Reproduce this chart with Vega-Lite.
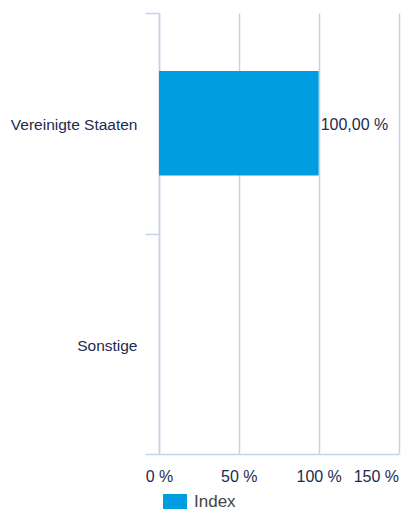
{
  "$schema": "https://vega.github.io/schema/vega-lite/v6.json",
  "width": 239.5,
  "height": 441,
  "autosize": {"type": "none"},
  "padding": {"left": 159, "top": 13, "right": 4.5, "bottom": 55},
  "config": {
    "view": {"stroke": null},
    "font": "Liberation Sans"
  },
  "data": {
    "values": [
      {"country": "Vereinigte Staaten", "value": 100, "label": "100,00 %", "series": "Index"},
      {"country": "Sonstige", "value": 0, "label": "", "series": "Index"}
    ]
  },
  "encoding": {
    "y": {
      "field": "country",
      "type": "nominal",
      "sort": null,
      "scale": {"domain": ["Vereinigte Staaten", "Sonstige"], "paddingInner": 0, "paddingOuter": 0},
      "axis": {
        "title": null,
        "labelFontSize": 15.5,
        "labelColor": "#1c2b50",
        "labelPadding": 8,
        "labelOffset": 1.5,
        "tickSize": 14,
        "tickBand": "extent",
        "tickColor": "#c5d3e9",
        "tickWidth": 1.5,
        "domainColor": "#c5d3e9",
        "domainWidth": 1.5,
        "grid": false
      }
    },
    "x": {
      "field": "value",
      "type": "quantitative",
      "scale": {"domain": [0, 150], "nice": false},
      "axis": {
        "title": null,
        "values": [0, 50, 100, 150],
        "labelExpr": "datum.value + ' %'",
        "labelFontSize": 16,
        "labelColor": "#1c2b50",
        "labelPadding": 14,
        "labelAlign": {"condition": {"test": "datum.value == 150", "value": "right"}, "value": "center"},
        "labelFlush": false,
        "ticks": false,
        "grid": true,
        "gridColor": "#c5d3e9",
        "gridWidth": 1.5,
        "domainColor": "#c5d3e9",
        "domainWidth": 1.5
      }
    }
  },
  "layer": [
    {
      "mark": {"type": "bar", "height": {"band": 0.475}},
      "encoding": {
        "color": {
          "field": "series",
          "type": "nominal",
          "scale": {"range": ["#009ee0"]},
          "legend": {
            "title": null,
            "orient": "bottom",
            "symbolType": "M-1,-0.667H1V0.667H-1Z",
            "symbolSize": 576,
            "symbolStrokeWidth": 0,
            "labelFontSize": 17,
            "labelOffset": 7,
            "labelColor": "#444444",
            "padding": 4,
            "offset": 2
          }
        }
      }
    },
    {
      "mark": {"type": "text", "align": "left", "dx": 2, "dy": 2, "fontSize": 16, "color": "#1c2b50"},
      "encoding": {
        "text": {"field": "label"}
      }
    }
  ]
}
